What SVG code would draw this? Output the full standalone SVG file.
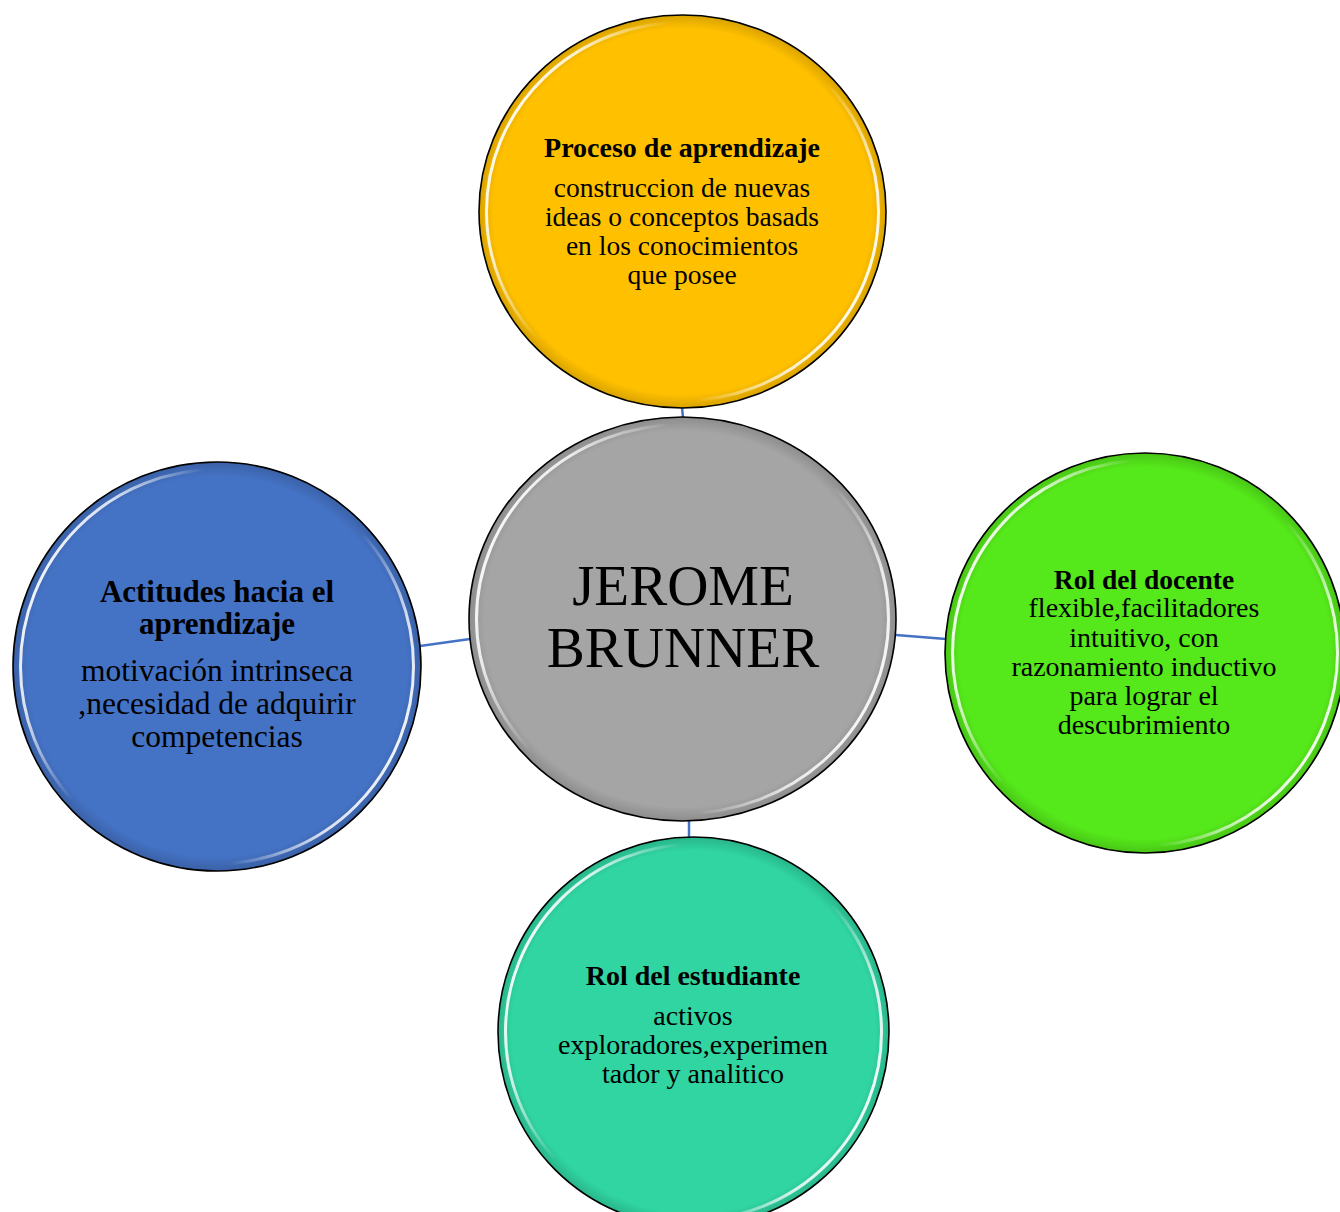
<svg xmlns="http://www.w3.org/2000/svg" width="1340" height="1212" viewBox="0 0 1340 1212">
<style>
.node{stroke:#000;stroke-width:1.6}
.hl{fill:none;stroke:url(#hl);stroke-width:3}
.sh{fill:url(#sh);stroke:none}
.t{font-family:"Liberation Serif","Times New Roman",serif;text-anchor:middle;fill:#000}
.b{font-weight:bold}
.conn{stroke:#4472C4;stroke-width:2.5;fill:none}
</style>
<defs>
<linearGradient id="hl" x1="0" y1="0.3" x2="1" y2="0.7">
<stop offset="0" stop-color="#fff" stop-opacity="0.95"/>
<stop offset="0.12" stop-color="#fff" stop-opacity="0.8"/>
<stop offset="0.3" stop-color="#fff" stop-opacity="0"/>
<stop offset="0.7" stop-color="#fff" stop-opacity="0"/>
<stop offset="0.88" stop-color="#fff" stop-opacity="0.8"/>
<stop offset="1" stop-color="#fff" stop-opacity="0.95"/>
</linearGradient>
<radialGradient id="sh" cx="0.5" cy="0.5" r="0.5">
<stop offset="0.93" stop-color="#000" stop-opacity="0"/>
<stop offset="1" stop-color="#000" stop-opacity="0.15"/>
</radialGradient>
</defs>
<rect width="1340" height="1212" fill="#fff"/>
<g id="connectors">
<line class="conn" x1="682" y1="407" x2="683" y2="418"/>
<line class="conn" x1="420" y1="646" x2="470" y2="639"/>
<line class="conn" x1="896" y1="635" x2="946" y2="639"/>
<line class="conn" x1="689" y1="820" x2="689" y2="838"/>
</g>
<g id="node-top">
<ellipse class="node" cx="682.5" cy="211.5" rx="203.5" ry="196.5" fill="#FFC000"/>
<ellipse class="sh" cx="682.5" cy="211.5" rx="203.5" ry="196.5"/>
<ellipse class="hl" cx="682.5" cy="211.5" rx="196" ry="189"/>
<text class="t b" x="682" y="157" font-size="28">Proceso de aprendizaje</text>
<text class="t" font-size="27.5"><tspan x="682" y="197">construccion de nuevas</tspan><tspan x="682" y="226">ideas o conceptos basads</tspan><tspan x="682" y="255">en los conocimientos</tspan><tspan x="682" y="284">que posee</tspan></text>
</g>
<g id="node-center">
<ellipse class="node" cx="682.5" cy="619" rx="213.5" ry="202" fill="#A5A5A5"/>
<ellipse class="sh" cx="682.5" cy="619" rx="213.5" ry="202"/>
<ellipse class="hl" cx="682.5" cy="619" rx="206" ry="194.5"/>
<text class="t" font-size="57"><tspan x="683" y="605">JEROME</tspan><tspan x="683" y="667">BRUNNER</tspan></text>
</g>
<g id="node-left">
<ellipse class="node" cx="217" cy="666.5" rx="204" ry="204.5" fill="#4472C4"/>
<ellipse class="sh" cx="217" cy="666.5" rx="204" ry="204.5"/>
<ellipse class="hl" cx="217" cy="666.5" rx="196.5" ry="197"/>
<text class="t b" font-size="31"><tspan x="217" y="602">Actitudes hacia el</tspan><tspan x="217" y="634">aprendizaje</tspan></text>
<text class="t" font-size="31.5"><tspan x="217" y="681">motivación intrinseca</tspan><tspan x="217" y="714">,necesidad de adquirir</tspan><tspan x="217" y="747">competencias</tspan></text>
</g>
<g id="node-right">
<ellipse class="node" cx="1145" cy="653" rx="200" ry="200" fill="#55E81A"/>
<ellipse class="sh" cx="1145" cy="653" rx="200" ry="200"/>
<ellipse class="hl" cx="1145" cy="653" rx="192.5" ry="192.5"/>
<text class="t b" x="1144" y="589" font-size="27.5">Rol del docente</text>
<text class="t" font-size="28"><tspan x="1144" y="617">flexible,facilitadores</tspan><tspan x="1144" y="647">intuitivo, con</tspan><tspan x="1144" y="676">razonamiento inductivo</tspan><tspan x="1144" y="705">para lograr el</tspan><tspan x="1144" y="734">descubrimiento</tspan></text>
</g>
<g id="node-bottom">
<ellipse class="node" cx="693.5" cy="1032" rx="195.5" ry="195" fill="#30D5A2"/>
<ellipse class="sh" cx="693.5" cy="1032" rx="195.5" ry="195"/>
<ellipse class="hl" cx="693.5" cy="1032" rx="188" ry="187.5"/>
<text class="t b" x="693" y="985" font-size="28">Rol del estudiante</text>
<text class="t" font-size="28"><tspan x="693" y="1025">activos</tspan><tspan x="693" y="1054">exploradores,experimen</tspan><tspan x="693" y="1083">tador y analitico</tspan></text>
</g>
</svg>
